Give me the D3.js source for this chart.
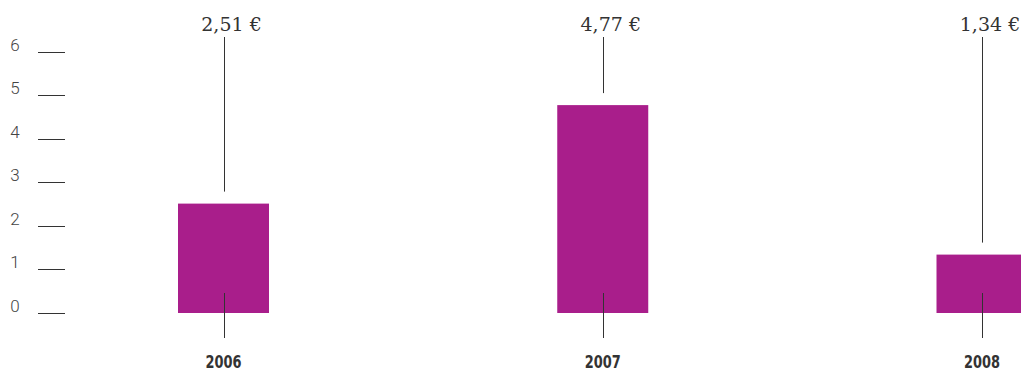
<!DOCTYPE html>
<html><head><meta charset="utf-8">
<script src="https://cdn.jsdelivr.net/npm/d3@7"></script>
<style>body{margin:0;background:#fff}svg{display:block}</style>
</head><body>
<script>
const years = ["2006","2007","2008"];
const values = [2.51, 4.77, 1.34];
const valueLabels = ["2,51 €","4,77 €","1,34 €"];
const yTicks = [0,1,2,3,4,5,6];

const W = 1021, H = 372;
const svg = d3.select("body").append("svg").attr("width", W).attr("height", H);

const y = d3.scaleLinear().domain([0, 6]).range([313, 51.5]);
const x = d3.scalePoint().domain(years).range([223.5, 982]);
const barW = 91;
const barColor = "#a91e8b";

// y ticks
const tg = svg.append("g");
tg.selectAll("line").data(yTicks).join("line")
  .attr("x1", 38).attr("x2", 65)
  .attr("y1", d => Math.round(y(d)) + 0.5).attr("y2", d => Math.round(y(d)) + 0.5)
  .attr("stroke", "#333").attr("stroke-width", 1);
tg.selectAll("text").data(yTicks).join("text")
  .attr("x", 15).attr("y", d => y(d) - 1)
  .attr("text-anchor", "middle")
  .attr("font-family", "Roboto, 'Open Sans', sans-serif").attr("font-weight", 300)
  .attr("font-size", 17).attr("fill", "#444")
  .text(d => d);

// bars
svg.selectAll("rect.bar").data(values).join("rect").attr("class","bar")
  .attr("x", (d,i) => x(years[i]) - barW/2)
  .attr("y", d => y(d))
  .attr("width", barW)
  .attr("height", d => y(0) - y(d))
  .attr("fill", barColor);

// upper connector lines
svg.selectAll("line.up").data(values).join("line").attr("class","up")
  .attr("x1", (d,i) => Math.round(x(years[i])) + 0.5).attr("x2", (d,i) => Math.round(x(years[i])) + 0.5)
  .attr("y1", 37).attr("y2", d => y(d) - 12)
  .attr("stroke", "#333").attr("stroke-width", 1);

// lower lines
svg.selectAll("line.low").data(values).join("line").attr("class","low")
  .attr("x1", (d,i) => Math.round(x(years[i])) + 0.5).attr("x2", (d,i) => Math.round(x(years[i])) + 0.5)
  .attr("y1", y(0) - 20).attr("y2", y(0) + 25)
  .attr("stroke", "#333").attr("stroke-width", 1);

// value labels
svg.selectAll("text.val").data(valueLabels).join("text").attr("class","val")
  .attr("x", (d,i) => x(years[i]) + 8).attr("y", 31)
  .attr("text-anchor", "middle")
  .attr("font-family", "'DejaVu Serif', serif").attr("font-size", 19)
  .attr("fill", "#333")
  .text(d => d);

// year labels (condensed via horizontal scale)
svg.selectAll("text.yr").data(years).join("text").attr("class","yr")
  .attr("transform", d => `translate(${x(d)},368) scale(0.72,1)`)
  .attr("text-anchor", "middle")
  .attr("font-family", "'DejaVu Sans', sans-serif")
  .attr("font-weight", "bold").attr("font-size", 18)
  .attr("fill", "#333")
  .text(d => d);
</script>
</body></html>
